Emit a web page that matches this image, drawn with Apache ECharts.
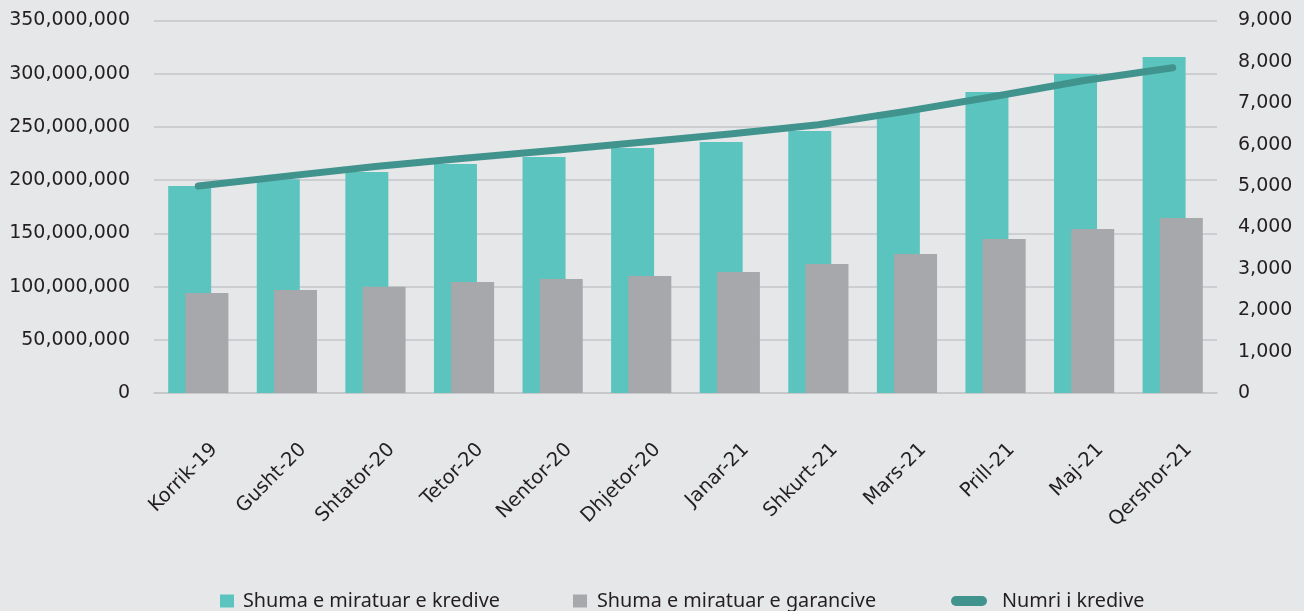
<!DOCTYPE html>
<html>
<head>
<meta charset="utf-8">
<script src="https://cdn.jsdelivr.net/npm/echarts@6/dist/echarts.min.js"></script>
<style>
  html, body { margin: 0; padding: 0; background: #e6e7e9; }
  #myEchartNode { width: 1304px; height: 611px; }
</style>
</head>
<body>
<div id="myEchartNode"></div>
<script>
; (function () {

    var months = ['Korrik-19', 'Gusht-20', 'Shtator-20', 'Tetor-20', 'Nentor-20', 'Dhjetor-20',
        'Janar-21', 'Shkurt-21', 'Mars-21', 'Prill-21', 'Maj-21', 'Qershor-21'];
    var shumaKredive = [194500000, 200800000, 207700000, 215200000, 221800000, 230200000,
        235800000, 246200000, 264000000, 282800000, 299700000, 315700000];
    var shumaGarancive = [94000000, 96800000, 99900000, 104300000, 107100000, 109900000,
        113700000, 121200000, 130600000, 144700000, 154000000, 164400000];
    var numriKredive = [5000, 5240, 5470, 5670, 5860, 6060, 6260, 6480, 6810, 7170, 7550, 7860];

    var seriesNames = ['Shuma e miratuar e kredive', 'Shuma e miratuar e garancive', 'Numri i kredive'];

    var axisFont = 'DejaVu Sans';
    var legendFont = 'Noto Sans';
    var textColor = '#231f20';
    var gridColor = '#c5c6c8';

    function fmt(v) {
        return String(v).replace(/\B(?=(\d{3})+(?!\d))/g, ',');
    }

    var myEchartObj = echarts.init(document.getElementById('myEchartNode'));
    var option = {
        backgroundColor: '#e6e7e9',
        animation: false,
        legend: [
            {
                data: [{ name: seriesNames[0], icon: 'rect' }],
                left: 215,
                top: 586,
                itemWidth: 14,
                itemHeight: 13,
                textStyle: { color: textColor, fontFamily: legendFont, fontSize: 19.8, padding: [0, 0, 0, 4] }
            },
            {
                data: [{ name: seriesNames[1], icon: 'rect' }],
                left: 568,
                top: 586,
                itemWidth: 14,
                itemHeight: 13,
                textStyle: { color: textColor, fontFamily: legendFont, fontSize: 19.8, padding: [0, 0, 0, 5] }
            },
            {
                data: [{ name: seriesNames[2], icon: 'path://M5,0 H31 A5,5 0 0 1 31,10 H5 A5,5 0 0 1 5,0 Z' }],
                left: 946,
                top: 586,
                itemWidth: 36,
                itemHeight: 10,
                textStyle: { color: textColor, fontFamily: legendFont, fontSize: 19.8, padding: [0, 0, 0, 10] }
            }
        ],
        grid: {
            top: 20.5,
            left: 154,
            right: 87,
            bottom: 218,
            containLabel: false
        },
        xAxis: {
            type: 'category',
            data: months,
            axisTick: { show: false },
            axisLine: { lineStyle: { color: gridColor, width: 1.5 } },
            axisLabel: {
                interval: 0,
                rotate: 45,
                margin: 70,
                color: textColor,
                fontFamily: axisFont,
                fontSize: 19.5,
                padding: [0, -23, 0, 0]
            }
        },
        yAxis: [
            {
                type: 'value',
                min: 0,
                max: 350000000,
                interval: 50000000,
                axisLine: { show: false },
                axisTick: { show: false },
                axisLabel: {
                    margin: 24,
                    color: textColor,
                    fontFamily: axisFont,
                    fontSize: 19,
                    formatter: fmt
                },
                splitLine: { lineStyle: { color: gridColor, width: 1.5 } }
            },
            {
                type: 'value',
                min: 0,
                max: 9000,
                interval: 1000,
                axisLine: { show: false },
                axisTick: { show: false },
                axisLabel: {
                    margin: 21,
                    color: textColor,
                    fontFamily: axisFont,
                    fontSize: 19,
                    formatter: fmt
                },
                splitLine: { show: false }
            }
        ],
        series: [
            {
                name: seriesNames[0],
                type: 'bar',
                barWidth: 43,
                barGap: '-60%',
                itemStyle: { color: '#5bc4bf' },
                data: shumaKredive
            },
            {
                name: seriesNames[1],
                type: 'bar',
                barWidth: 43,
                barGap: '-60%',
                itemStyle: { color: '#a7a8ab' },
                data: shumaGarancive
            },
            {
                name: seriesNames[2],
                type: 'line',
                yAxisIndex: 1,
                symbol: 'none',
                lineStyle: { color: '#41938d', width: 7, cap: 'round', join: 'round' },
                itemStyle: { color: '#41938d' },
                data: numriKredive
            }
        ]
    };

    myEchartObj.setOption(option);
})();
</script>
</body>
</html>
